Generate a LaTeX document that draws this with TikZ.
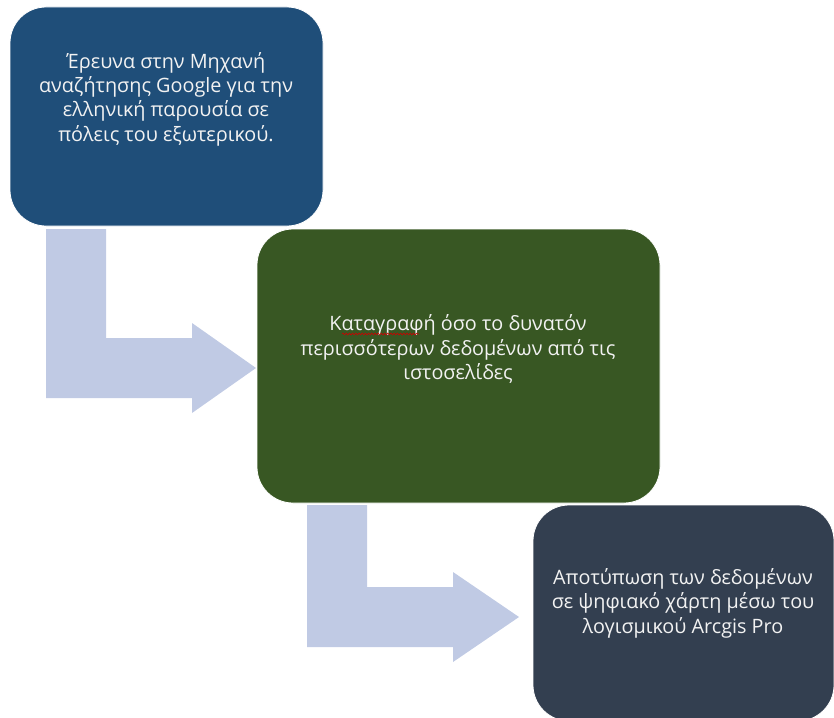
\documentclass[tikz,border=0pt]{standalone}
\usepackage{fontspec}
\setmainfont{Open Sans}
\usetikzlibrary{decorations.pathmorphing}
\definecolor{cone}{RGB}{31,78,121}
\definecolor{ctwo}{RGB}{56,87,35}
\definecolor{cthree}{RGB}{51,63,80}
\definecolor{carrow}{RGB}{192,202,228}
\definecolor{ctext}{RGB}{242,242,242}
\tikzset{
  box/.style={rectangle, rounded corners=36pt, draw=white, line width=0.8pt, inner sep=0pt},
  boxtext/.style={align=center, text=ctext, font=\fontsize{19.8}{24.4}\selectfont, inner sep=0pt},
  bentarrow/.style={fill=carrow, draw=none},
  squiggle/.style={draw=red!80!black, line width=0.6pt, decorate, decoration={snake, amplitude=0.9pt, segment length=3.2pt}}
}
\begin{document}
\begin{tikzpicture}[x=1pt,y=-1pt]
\useasboundingbox (0,0) rectangle (834,717);
% arrows (behind boxes)
\fill[bentarrow] (46,229) -- (106,229) -- (106,338) -- (192,338) -- (192,323) -- (256,368) -- (192,413) -- (192,398) -- (46,398) -- cycle;
\fill[bentarrow] (307,505) -- (367,505) -- (367,587) -- (453,587) -- (453,572) -- (519,617) -- (453,662) -- (453,647) -- (307,647) -- cycle;
% boxes
\node[box, fill=cone, minimum width=313pt, minimum height=219pt] (b1) at (166.5,116.5) {};
\node[box, fill=ctwo, minimum width=403pt, minimum height=274pt] (b2) at (458.5,366) {};
\node[box, fill=cthree, minimum width=301pt, minimum height=216pt] (b3) at (683.5,613) {};
% texts
\node[boxtext] (t1) at (166,99) {Έρευνα στην Μηχανή\\αναζήτησης Google για την\\ελληνική παρουσία σε\\πόλεις του εξωτερικού.};
\node[boxtext] (t2) at (458,349) {Καταγραφή όσο το δυνατόν\\περισσότερων δεδομένων από τις\\ιστοσελίδες};
\node[boxtext] (t3) at (683,603) {Αποτύπωση των δεδομένων\\σε ψηφιακό χάρτη μέσω του\\λογισμικού Arcgis Pro};
\draw[squiggle] (342,334) -- (419,334);
\end{tikzpicture}
\end{document}
